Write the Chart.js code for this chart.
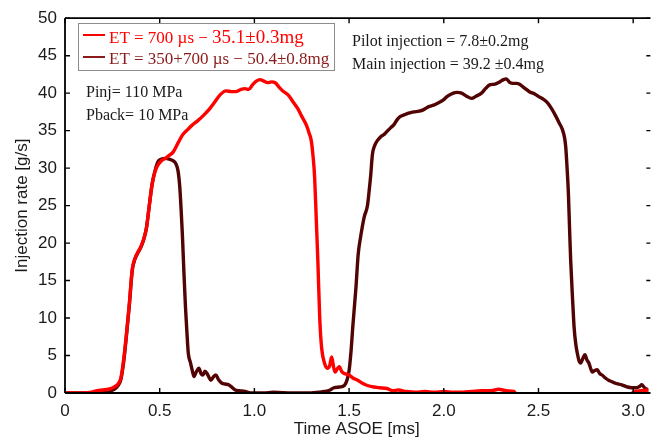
<!DOCTYPE html>
<html>
<head>
<meta charset="utf-8">
<script src="https://cdn.jsdelivr.net/npm/chart.js@4.4.1/dist/chart.umd.min.js"></script>
<style>
  html, body { margin: 0; padding: 0; background: #ffffff; }
  #wrap { width: 653px; height: 441px; position: relative; }
</style>
</head>
<body>
<div id="wrap"><canvas id="c" width="653" height="441"></canvas></div>
<script>
// Injection rate, single injection (ET = 700 µs)
const timeSingle = [0, 0.1, 0.14, 0.17, 0.2, 0.23, 0.26, 0.28, 0.295, 0.31, 0.325, 0.34, 0.355, 0.37, 0.385, 0.4, 0.415, 0.43, 0.445, 0.46, 0.475, 0.49, 0.51, 0.53, 0.55, 0.57, 0.6, 0.62, 0.65, 0.67, 0.7, 0.73, 0.76, 0.79, 0.82, 0.85, 0.88, 0.9, 0.93, 0.95, 0.97, 0.99, 1.01, 1.03, 1.05, 1.07, 1.09, 1.11, 1.13, 1.15, 1.18, 1.2, 1.23, 1.25, 1.275, 1.29, 1.3, 1.31, 1.318, 1.327, 1.335, 1.345, 1.355, 1.37, 1.385, 1.397, 1.408, 1.418, 1.426, 1.437, 1.449, 1.46, 1.475, 1.5, 1.52, 1.545, 1.57, 1.597, 1.63, 1.66, 1.7, 1.73, 1.76, 1.8, 1.85, 1.9, 1.95, 2.0, 2.05, 2.1, 2.15, 2.2, 2.25, 2.29, 2.33, 2.37, 2.4, 2.98, 3.0, 3.04, 3.08];
const rateSingle = [0, 0, 0.1, 0.3, 0.4, 0.5, 0.8, 1.2, 2, 4.5, 8, 12, 16.5, 18, 18.8, 19.5, 20.5, 22, 25, 27.8, 29.5, 30.4, 31.0, 31.3, 31.7, 32.1, 33.5, 34.4, 35.2, 35.7, 36.3, 37.0, 37.8, 38.8, 39.8, 40.3, 40.2, 40.2, 40.5, 40.6, 40.5, 41.1, 41.6, 41.8, 41.6, 41.4, 41.5, 41.4, 40.8, 40.3, 39.7, 39.0, 37.9, 36.9, 35.7, 34.6, 33.7, 31.5, 28.8, 23, 17.7, 10, 6, 4.0, 3.3, 3.6, 4.8, 3.5, 2.8, 3.2, 3.5, 2.9, 2.6, 2.4, 2.0, 1.7, 1.3, 1.0, 0.8, 0.7, 0.6, 0.3, 0.4, 0.2, 0.1, 0.2, 0.1, 0.2, 0.1, 0.1, 0.2, 0.3, 0.3, 0.5, 0.3, 0.2, -0.8, -0.8, 0.1, 0.3, 0.4];

// Injection rate, split injection (ET = 350 + 700 µs)
const timeSplit = [0, 0.1, 0.2, 0.26, 0.28, 0.295, 0.31, 0.325, 0.34, 0.355, 0.37, 0.385, 0.4, 0.415, 0.43, 0.445, 0.46, 0.475, 0.49, 0.51, 0.53, 0.55, 0.57, 0.585, 0.597, 0.606, 0.613, 0.62, 0.628, 0.636, 0.644, 0.651, 0.663, 0.672, 0.681, 0.693, 0.707, 0.718, 0.728, 0.739, 0.75, 0.76, 0.77, 0.785, 0.797, 0.81, 0.829, 0.845, 0.864, 0.88, 0.899, 0.92, 0.95, 0.98, 1.05, 1.1, 1.2, 1.3, 1.34, 1.37, 1.4, 1.42, 1.45, 1.475, 1.49, 1.5, 1.51, 1.52, 1.536, 1.548, 1.562, 1.58, 1.597, 1.606, 1.614, 1.623, 1.635, 1.65, 1.667, 1.685, 1.7, 1.72, 1.737, 1.755, 1.771, 1.79, 1.81, 1.841, 1.87, 1.894, 1.92, 1.946, 1.97, 1.998, 2.02, 2.05, 2.07, 2.094, 2.12, 2.147, 2.17, 2.199, 2.22, 2.242, 2.27, 2.295, 2.315, 2.33, 2.35, 2.365, 2.385, 2.4, 2.425, 2.452, 2.48, 2.504, 2.525, 2.548, 2.57, 2.592, 2.61, 2.627, 2.638, 2.644, 2.651, 2.658, 2.664, 2.67, 2.68, 2.688, 2.697, 2.705, 2.714, 2.723, 2.734, 2.745, 2.756, 2.766, 2.775, 2.784, 2.797, 2.81, 2.823, 2.836, 2.853, 2.87, 2.888, 2.906, 2.94, 2.97, 2.993, 3.02, 3.035, 3.045, 3.06, 3.08];
const rateSplit = [0, 0, 0.1, 0.5, 1.0, 1.8, 4.2, 7.8, 11.8, 16.3, 17.9, 18.7, 19.4, 20.4, 22, 25, 27.9, 29.6, 30.8, 31.2, 31.3, 31.2, 31.0, 30.6, 29.6, 27.5, 24.5, 21, 16, 11.5, 8, 5.3, 4.0, 3.0, 2.2, 2.8, 3.3, 2.6, 2.4, 2.9, 2.6, 2.1, 1.7, 2.2, 2.4, 1.8, 1.3, 1.2, 1.1, 0.8, 0.4, 0.3, 0.2, 0.0, 0.0, 0.1, 0.0, 0.0, 0.1, 0.2, 0.4, 0.7, 0.8, 1.0, 1.8, 3.0, 5.5, 9, 14, 18.5, 21, 23.5, 25, 27, 29, 31.8, 33.0, 33.7, 34.2, 34.5, 34.9, 35.4, 35.8, 36.5, 36.9, 37.1, 37.3, 37.5, 37.6, 37.8, 38.2, 38.4, 38.7, 39.1, 39.6, 40.0, 40.1, 40.0, 39.6, 39.3, 39.6, 40.0, 40.6, 41.1, 41.2, 41.5, 41.8, 41.9, 41.4, 41.3, 41.3, 41.2, 40.7, 40.2, 39.9, 39.5, 39.2, 38.7, 37.9, 36.9, 36.0, 35.1, 34.0, 32.8, 30, 26.6, 22, 17.7, 12.5, 8.8, 6.5, 5.3, 4.3, 4.0, 4.6, 5.1, 4.4, 4.0, 3.3, 2.8, 3.0, 3.1, 2.6, 2.4, 2.0, 1.7, 1.5, 1.3, 1.1, 0.8, 0.7, 0.7, 0.9, 1.1, 0.7, 0.4];

const xTicks = [0, 0.5, 1, 1.5, 2, 2.5, 3];
const yTicks = [0, 5, 10, 15, 20, 25, 30, 35, 40, 45, 50];

const legendSingle = ['ET = 700 \u00b5s \u2212 ', '35.1\u00b10.3mg'];
const legendSplit = 'ET = 350+700 \u00b5s \u2212 50.4\u00b10.8mg';
const conditions = ['Pinj= 110 MPa', 'Pback= 10 MPa'];
const splitMasses = ['Pilot injection = 7.8\u00b10.2mg', 'Main injection = 39.2 \u00b10.4mg'];

const RED = '#ff0000';
const DARK = '#520303';
const DARK_LEGEND = '#8b1a1a';
const SANS = '"Liberation Sans", Arial, Helvetica, sans-serif';
const SERIF = '"Liberation Serif", "Times New Roman", serif';

const toPoints = (xs, ys) => xs.map((x, i) => ({ x: x, y: ys[i] }));

// Box frame, inward ticks, legend box and annotations
const decorations = {
  id: 'decorations',
  afterDraw(chart) {
    const { ctx, chartArea: a, scales: { x, y } } = chart;
    ctx.save();
    ctx.strokeStyle = '#000';
    ctx.lineWidth = 1.8;
    ctx.beginPath();
    ctx.moveTo(a.left, a.top); ctx.lineTo(a.right + 2, a.top);
    ctx.moveTo(a.left, a.top); ctx.lineTo(a.left, a.bottom);
    ctx.moveTo(a.left, a.bottom); ctx.lineTo(a.right + 2, a.bottom);
    ctx.stroke();

    const len = 5;
    ctx.lineWidth = 1.4;
    ctx.beginPath();
    x.ticks.forEach(t => {
      const px = x.getPixelForValue(t.value);
      ctx.moveTo(px, a.bottom); ctx.lineTo(px, a.bottom - len);
      ctx.moveTo(px, a.top); ctx.lineTo(px, a.top + len);
    });
    y.ticks.forEach(t => {
      const py = y.getPixelForValue(t.value);
      ctx.moveTo(a.left, py); ctx.lineTo(a.left + len, py);
      ctx.moveTo(a.right + 2, py); ctx.lineTo(a.right - 2, py);
    });
    ctx.stroke();

    // legend
    const bx = 78, by = 23, bw = 256, bh = 47;
    ctx.fillStyle = '#ffffff';
    ctx.fillRect(bx, by, bw, bh);
    ctx.strokeStyle = '#8c8c8c';
    ctx.lineWidth = 1;
    ctx.strokeRect(bx + 0.5, by + 0.5, bw, bh);

    ctx.lineWidth = 2;
    ctx.strokeStyle = RED;
    ctx.beginPath(); ctx.moveTo(83, 35); ctx.lineTo(105, 35); ctx.stroke();
    ctx.strokeStyle = DARK_LEGEND;
    ctx.beginPath(); ctx.moveTo(83, 57); ctx.lineTo(105, 57); ctx.stroke();

    ctx.textBaseline = 'alphabetic';
    ctx.textAlign = 'left';
    ctx.fillStyle = RED;
    ctx.font = '17px ' + SERIF;
    ctx.fillText(legendSingle[0], 109, 43);
    const w0 = ctx.measureText(legendSingle[0]).width;
    ctx.font = '19px ' + SERIF;
    ctx.fillText(legendSingle[1], 109 + w0, 43);
    ctx.fillStyle = DARK_LEGEND;
    ctx.font = '17px ' + SERIF;
    ctx.fillText(legendSplit, 109, 64);

    ctx.fillStyle = '#1a1a1a';
    ctx.font = '16px ' + SERIF;
    ctx.fillText(conditions[0], 86, 97);
    ctx.fillText(conditions[1], 86, 120);
    ctx.fillText(splitMasses[0], 352, 46);
    ctx.fillText(splitMasses[1], 352, 69);
    ctx.restore();
  }
};

new Chart(document.getElementById('c'), {
  type: 'line',
  data: {
    datasets: [
      {
        label: 'ET = 700 \u00b5s',
        data: toPoints(timeSingle, rateSingle),
        borderColor: RED,
        borderWidth: 3.4,
        pointRadius: 0,
        cubicInterpolationMode: 'monotone',
        borderJoinStyle: 'round',
        borderCapStyle: 'round',
        fill: false
      },
      {
        label: 'ET = 350+700 \u00b5s',
        data: toPoints(timeSplit, rateSplit),
        borderColor: DARK,
        borderWidth: 3.4,
        pointRadius: 0,
        cubicInterpolationMode: 'monotone',
        borderJoinStyle: 'round',
        borderCapStyle: 'round',
        fill: false
      }
    ]
  },
  options: {
    responsive: false,
    devicePixelRatio: 1,
    animation: false,
    layout: { padding: { top: 18, right: 0, left: 0, bottom: 0 } },
    plugins: { legend: { display: false }, tooltip: { enabled: false } },
    scales: {
      x: {
        type: 'linear',
        min: 0,
        max: 3.08,
        afterBuildTicks: s => { s.ticks = xTicks.map(v => ({ value: v })); },
        afterFit: s => { s.height = 48; },
        grid: { drawOnChartArea: false, drawTicks: false },
        border: { display: false },
        ticks: {
          color: '#1a1a1a',
          font: { family: SANS, size: 17 },
          padding: 8,
          maxRotation: 0,
          autoSkip: false
        },
        title: {
          display: true,
          text: 'Time ASOE [ms]',
          color: '#1a1a1a',
          font: { family: SANS, size: 17 },
          padding: { top: 0, bottom: 1 }
        }
      },
      y: {
        type: 'linear',
        min: 0,
        max: 50,
        afterBuildTicks: s => { s.ticks = yTicks.map(v => ({ value: v })); },
        afterFit: s => { s.width = 65; },
        grid: { drawOnChartArea: false, drawTicks: false },
        border: { display: false },
        ticks: {
          color: '#1a1a1a',
          font: { family: SANS, size: 17 },
          padding: 8,
          autoSkip: false
        },
        title: {
          display: true,
          text: 'Injection rate [g/s]',
          color: '#1a1a1a',
          font: { family: SANS, size: 17 },
          padding: { top: 12, bottom: 0 }
        }
      }
    }
  },
  plugins: [decorations]
});
</script>
</body>
</html>
